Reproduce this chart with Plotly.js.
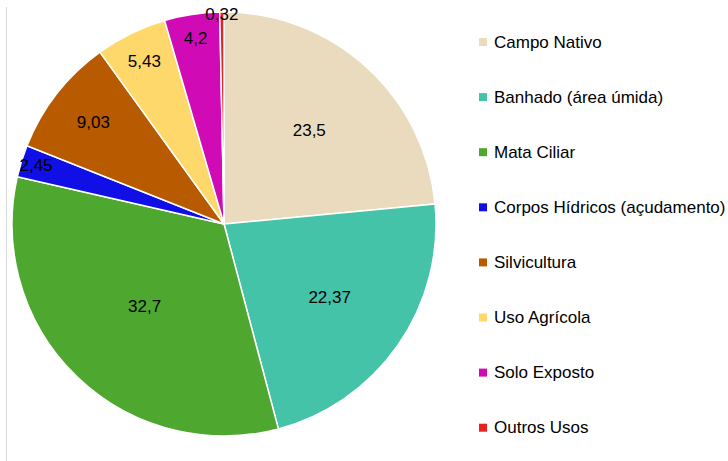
<!DOCTYPE html>
<html>
<head>
<meta charset="utf-8">
<script src="https://cdn.plot.ly/plotly-3.0.1.min.js"></script>
<style>html,body{margin:0;padding:0;background:#fff;}#chart{width:728px;height:461px;}</style>
</head>
<body>
<div id="chart"></div>
<script>
const categories = ["Campo Nativo", "Banhado (área úmida)", "Mata Ciliar", "Corpos Hídricos (açudamento)", "Silvicultura", "Uso Agrícola", "Solo Exposto", "Outros Usos"];
const values = [23.5, 22.37, 32.7, 2.45, 9.03, 5.43, 4.2, 0.32];
const colors = ["#EBDBBE", "#45C3A8", "#4EA72E", "#1010E6", "#B85A00", "#FFD86B", "#D00AB5", "#E8201E"];

const W = 728, H = 461;
const px = x => x / W;
const py = y => 1 - y / H;

const trace = {
  type: 'pie',
  labels: categories,
  values: values,
  sort: false,
  direction: 'clockwise',
  rotation: 0,
  marker: {colors: colors, line: {color: '#ffffff', width: 1.5}},
  textinfo: 'value',
  textposition: 'inside',
  insidetextorientation: 'horizontal',
  textfont: {family: 'Liberation Sans, Arial, sans-serif', size: 17, color: '#000000'},
  hoverinfo: 'label+value',
  domain: {x: [px(12), px(436)], y: [py(436), py(12)]},
  showlegend: false
};

const shapes = [{type: 'line', xref: 'paper', yref: 'paper', x0: px(6.5), x1: px(6.5), y0: py(7), y1: py(461), line: {color: '#d9d9d9', width: 1}}];
const annotations = [];
const legendY0 = 42, legendStep = 55.1;
categories.forEach((c, i) => {
  const y = legendY0 + i * legendStep;
  shapes.push({type: 'rect', xref: 'paper', yref: 'paper', x0: px(479), x1: px(487), y0: py(y + 4), y1: py(y - 4), fillcolor: colors[i], line: {width: 0}});
  annotations.push({xref: 'paper', yref: 'paper', x: px(492), y: py(y), xanchor: 'left', yanchor: 'middle', text: c, showarrow: false, font: {family: 'Liberation Sans, Arial, sans-serif', size: 17, color: '#000000'}});
});

const layout = {
  width: W, height: H,
  margin: {l: 0, r: 0, t: 0, b: 0},
  paper_bgcolor: '#ffffff',
  separators: ',.',
  uniformtext: {mode: 'show', minsize: 17},
  shapes: shapes,
  annotations: annotations
};

Plotly.newPlot('chart', [trace], layout, {displayModeBar: false, staticPlot: true});
</script>
</body>
</html>
